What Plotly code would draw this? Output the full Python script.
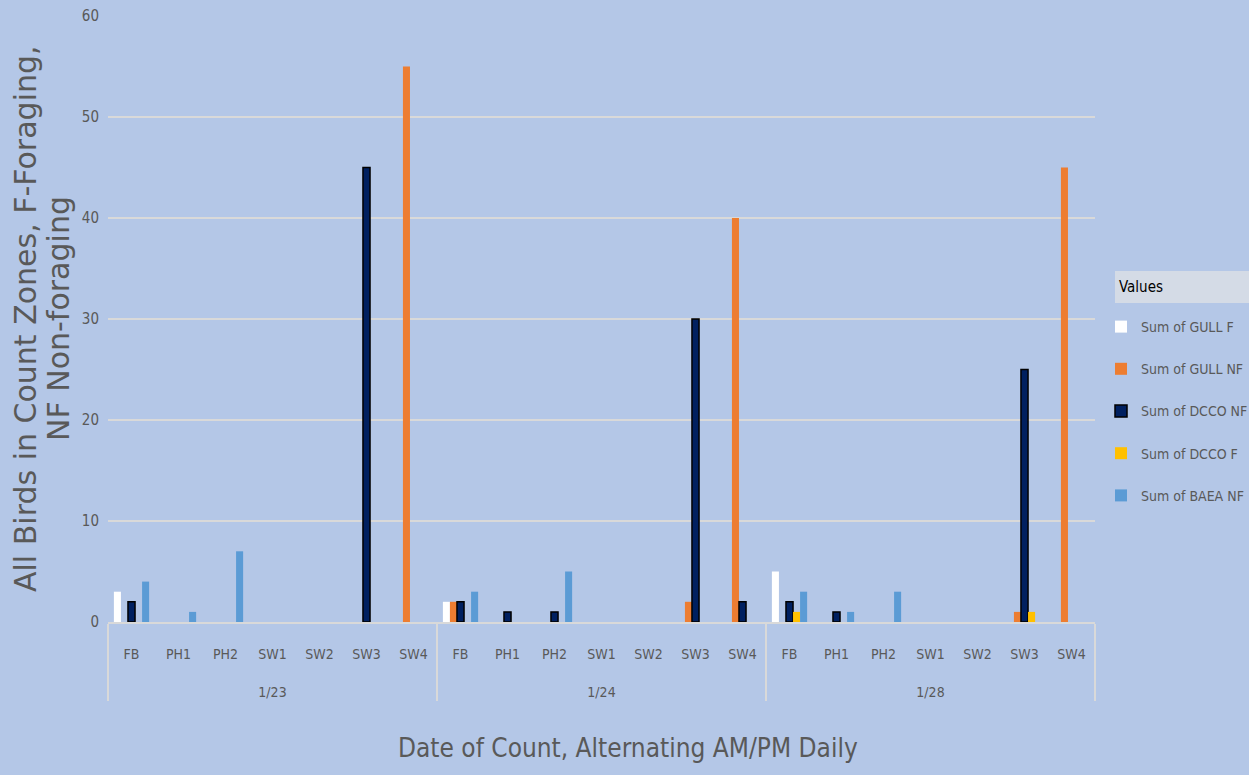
import plotly.graph_objects as go

dates = ["1/23", "1/24", "1/28"]
zones = ["FB", "PH1", "PH2", "SW1", "SW2", "SW3", "SW4"]

gull_f = [3, 0, 0, 0, 0, 0, 0,   2, 0, 0, 0, 0, 0, 0,   5, 0, 0, 0, 0, 0, 0]
gull_nf = [0, 0, 0, 0, 0, 0, 55, 2, 0, 0, 0, 0, 2, 40,  0, 0, 0, 0, 0, 1, 45]
dcco_nf = [2, 0, 0, 0, 0, 45, 0, 2, 1, 1, 0, 0, 30, 2,  2, 1, 0, 0, 0, 25, 0]
dcco_f = [0, 0, 0, 0, 0, 0, 0,   0, 0, 0, 0, 0, 0, 0,   1, 0, 0, 0, 0, 1, 0]
baea_nf = [4, 1, 7, 0, 0, 0, 0,  3, 0, 5, 0, 0, 0, 0,   3, 1, 3, 0, 0, 0, 0]

series = [
    ("Sum of GULL F", gull_f, "#FFFFFF", None),
    ("Sum of GULL NF", gull_nf, "#ED7D31", None),
    ("Sum of DCCO NF", dcco_nf, "#002060", "#000000"),
    ("Sum of DCCO F", dcco_f, "#FFC000", None),
    ("Sum of BAEA NF", baea_nf, "#5B9BD5", None),
]

y_title_lines = ["All Birds in Count Zones, F-Foraging,", "NF Non-foraging"]

x_outer = [d for d in dates for _ in zones]
x_inner = [" <br>" + z + "<br><span style='font-size:22px'> </span>" for _ in dates for z in zones]

BG = "#B4C7E7"
GRAY = "#595959"
COND = "DejaVu Sans Condensed, Liberation Sans Narrow, sans-serif"

fig = go.Figure()
for i, (name, vals, color, line) in enumerate(series):
    fig.add_trace(go.Bar(
        name=name,
        x=[x_outer, x_inner],
        y=[v if v else None for v in vals],
        marker=dict(color=color,
                    line=dict(color=line if line else color, width=1.5 if line else 0)),
        legendgroup=f"g{i}",
    ))

plot_h = 775 - 16 - 153
y_title_ann = [
    dict(text=t, xref="paper", yref="paper",
         x=-(108 - xc) / 987, y=(622 - 319) / plot_h, xanchor="center", yanchor="middle",
         textangle=-90, showarrow=False,
         font=dict(family="DejaVu Sans, sans-serif", size=30, color=GRAY))
    for t, xc in zip(y_title_lines, [25, 58])
]

fig.update_layout(
    width=1249, height=775,
    paper_bgcolor=BG, plot_bgcolor=BG,
    barmode="group", bargap=0.25, bargroupgap=0,
    margin=dict(l=108, r=154, t=16, b=153, autoexpand=False),
    font=dict(family=COND, color=GRAY, size=14),
    xaxis=dict(
        type="multicategory",
        showline=True, linecolor="#D9D9D9", linewidth=1.5,
        showdividers=True, dividercolor="#D9D9D9", dividerwidth=1.5,
        tickfont=dict(family=COND, size=14, color=GRAY),
    ),
    yaxis=dict(
        range=[0, 60], dtick=10,
        showgrid=True, gridcolor="#D9D9D9", gridwidth=1.5,
        zeroline=False,
        tickfont=dict(family=COND, size=15, color=GRAY),
        ticks="", ticklabelstandoff=8,
    ),
    showlegend=True,
    legend=dict(
        xref="container", yref="container",
        x=1101/1249, y=1-311/775, xanchor="left", yanchor="top",
        bgcolor="rgba(0,0,0,0)",
        font=dict(family=COND, size=14, color=GRAY),
        tracegroupgap=21,
        itemwidth=30,
    ),
    shapes=[dict(type="rect", xref="paper", yref="paper",
                 x0=(1115-108)/987, x1=(1249-108)/987,
                 y0=(775-153-303)/plot_h, y1=(775-153-271)/plot_h,
                 fillcolor="#D4DBE6", line=dict(width=0), layer="below")],
    annotations=[
        dict(text="Values", xref="paper", yref="paper",
             x=(1117-108)/987, y=(775-153-287)/plot_h, xanchor="left", yanchor="middle",
             showarrow=False, font=dict(family=COND, size=15, color="#000000")),
        dict(text="Date of Count, Alternating AM/PM Daily", xref="paper", yref="paper",
             x=(628 - 108) / 987, y=-(748-622)/plot_h, xanchor="center", yanchor="middle",
             showarrow=False, font=dict(family=COND, size=26, color=GRAY)),
    ] + y_title_ann,
)

fig.write_html("out.html", config={"displayModeBar": False},
               post_script="document.body.style.margin='0';document.body.style.background='%s';" % BG)
